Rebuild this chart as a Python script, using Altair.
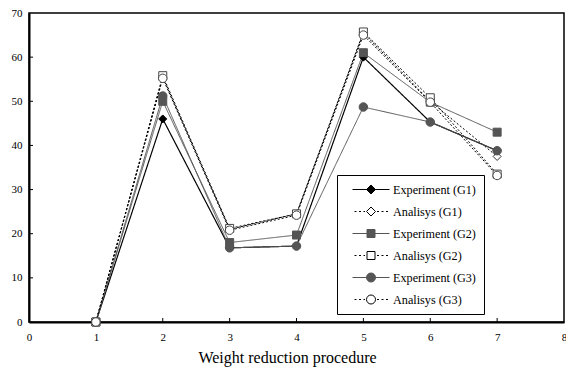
import altair as alt
import pandas as pd

steps = [1, 2, 3, 4, 5, 6, 7]
series_names = ["Experiment (G1)", "Analisys (G1)", "Experiment (G2)",
                "Analisys (G2)", "Experiment (G3)", "Analisys (G3)"]
g1_exp = [0, 46.0, 16.8, 17.2, 60.0, 45.3, 38.8]
g1_ana = [0, 55.5, 21.0, 24.5, 65.5, 50.0, 37.5]
g2_exp = [0, 50.0, 18.0, 19.7, 61.0, 49.8, 43.0]
g2_ana = [0, 55.8, 21.2, 24.5, 65.7, 50.8, 33.5]
g3_exp = [0, 51.2, 16.8, 17.2, 48.7, 45.3, 38.8]
g3_ana = [0, 55.2, 20.8, 24.2, 65.0, 49.8, 33.2]
x_ticks = [0, 1, 2, 3, 4, 5, 6, 7, 8]
y_ticks = [0, 10, 20, 30, 40, 50, 60, 70]
x_inner_ticks = [1, 2, 3, 4, 5, 6, 7]
y_inner_ticks = [10, 20, 30, 40, 50, 60]

rows = []
for name, vals in zip(series_names, [g1_exp, g1_ana, g2_exp, g2_ana, g3_exp, g3_ana]):
    for s, v in zip(steps, vals):
        rows.append({"step": s, "value": v, "series": name})
df = pd.DataFrame(rows)

W, H = 535, 309
SERIF = "Liberation Serif"
GRAY = "#555555"

styles = {
    "Experiment (G1)": dict(line="black", dash=[1, 0], lw=1.2, shape="diamond", fill="black", stroke="black", size=64),
    "Analisys (G1)": dict(line="black", dash=[2, 2], lw=1.0, shape="diamond", fill="white", stroke="#333333", size=64),
    "Experiment (G2)": dict(line=GRAY, dash=[1, 0], lw=1.0, shape="square", fill=GRAY, stroke=GRAY, size=64),
    "Analisys (G2)": dict(line="black", dash=[2, 2], lw=1.0, shape="square", fill="white", stroke="#444444", size=64),
    "Experiment (G3)": dict(line=GRAY, dash=[1, 0], lw=1.0, shape="circle", fill=GRAY, stroke=GRAY, size=72),
    "Analisys (G3)": dict(line="black", dash=[2, 2], lw=1.0, shape="circle", fill="white", stroke="#444444", size=72),
}

xscale = alt.Scale(domain=[0, 8], nice=False, zero=False)
yscale = alt.Scale(domain=[0, 70], nice=False)
X = alt.X("step:Q", scale=xscale,
          axis=alt.Axis(values=x_ticks, title="Weight reduction procedure", format="d"))
Y = alt.Y("value:Q", scale=yscale, axis=alt.Axis(values=y_ticks, title=None, format="d"))

base = alt.Chart(df)
layers = []

# inner tick marks
xt = alt.Chart(pd.DataFrame({"t": x_inner_ticks})).mark_rule(color="black", strokeWidth=1).encode(
    x=alt.X("t:Q", scale=xscale), y=alt.value(H), y2=alt.value(H - 4))
yt = alt.Chart(pd.DataFrame({"t": y_inner_ticks})).mark_rule(color="black", strokeWidth=1).encode(
    y=alt.Y("t:Q", scale=yscale), x=alt.value(0), x2=alt.value(4))
layers += [xt, yt]

for name in series_names:
    st = styles[name]
    layers.append(base.transform_filter(alt.datum.series == name).mark_line(
        color=st["line"], strokeDash=st["dash"], strokeWidth=st["lw"]).encode(x=X, y=Y))
for name in series_names:
    st = styles[name]
    layers.append(base.transform_filter(alt.datum.series == name).mark_point(
        shape=st["shape"], fill=st["fill"], stroke=st["stroke"], size=st["size"],
        strokeWidth=1, opacity=1, filled=False, fillOpacity=1).encode(x=X, y=Y))

# legend symbols: line + marker drawn as custom paths
SYM = 12          # symbol box (px) -> symbolSize = SYM**2
S = SYM / 2       # px per path unit
LINE_A, LINE_B = 1.0, 38.0   # line extent, px right of symbol centre
MID = (LINE_A + LINE_B) / 2


def u(px):
    return round(px / S, 4)


def dotted(a, b):
    segs = []
    p = a
    while p < b - 0.3:
        q = min(p + 2, b)
        segs.append(f"M{u(p)},0L{u(q)},0")
        p = q + 2.5
    return "".join(segs)


def marker(shape):
    c = u(MID)
    if shape == "diamond":
        r = u(4.5)
        return f"M{c},{-r}L{c + r},0L{c},{r}L{c - r},0Z"
    if shape == "square":
        r = u(4)
        return f"M{c - r},{-r}L{c + r},{-r}L{c + r},{r}L{c - r},{r}Z"
    r = u(4.5)
    return f"M{c - r},0A{r},{r},0,1,0,{c + r},0A{r},{r},0,1,0,{c - r},0Z"


paths, fills, strokes = [], [], []
for name in series_names:
    st = styles[name]
    m = marker(st["shape"])
    if st["dash"] == [1, 0]:
        paths.append(f"M{u(LINE_A)},0L{u(LINE_B)},0" + m)
    else:
        paths.append(dotted(LINE_A + 2, MID - 6) + dotted(MID + 6, LINE_B) + m)
    fills.append(st["fill"])
    strokes.append(st["line"] if st["fill"] != "white" else "black")

legend_layer = base.transform_filter("datum.step < 0").mark_point(opacity=1, strokeWidth=1).encode(
    x=X, y=Y,
    shape=alt.Shape("series:N", scale=alt.Scale(domain=series_names, range=paths), legend=alt.Legend(title=None)),
    fill=alt.Fill("series:N", scale=alt.Scale(domain=series_names, range=fills), legend=alt.Legend(title=None)),
    stroke=alt.Stroke("series:N", scale=alt.Scale(domain=series_names, range=strokes), legend=alt.Legend(title=None)),
)
layers.append(legend_layer)

chart = alt.layer(*layers).properties(
    width=W, height=H,
    autosize=alt.AutoSizeParams(type="none"),
    padding={"left": 29, "top": 13, "right": 2, "bottom": 52},
).configure_view(stroke="black", strokeWidth=1.5).configure_axis(
    grid=False, ticks=False, domainColor="black", domainWidth=2,
    labelFont=SERIF, labelFontSize=11, labelColor="black",
    titleFont=SERIF, titleFontSize=16, titleFontWeight="normal", titleColor="black",
).configure_axisX(labelPadding=9, titlePadding=7, labelFlush=False, titleX=258).configure_axisY(labelPadding=7).configure_legend(
    orient="none", legendX=308, legendY=162, strokeColor="black", fillColor="white",
    padding=8, symbolSize=SYM * SYM, symbolStrokeWidth=1, labelFont=SERIF, labelFontSize=12.2,
    labelColor="black", labelOffset=35, rowPadding=9,
)

chart.save("out.html", embed_options={"renderer": "svg", "actions": False})
